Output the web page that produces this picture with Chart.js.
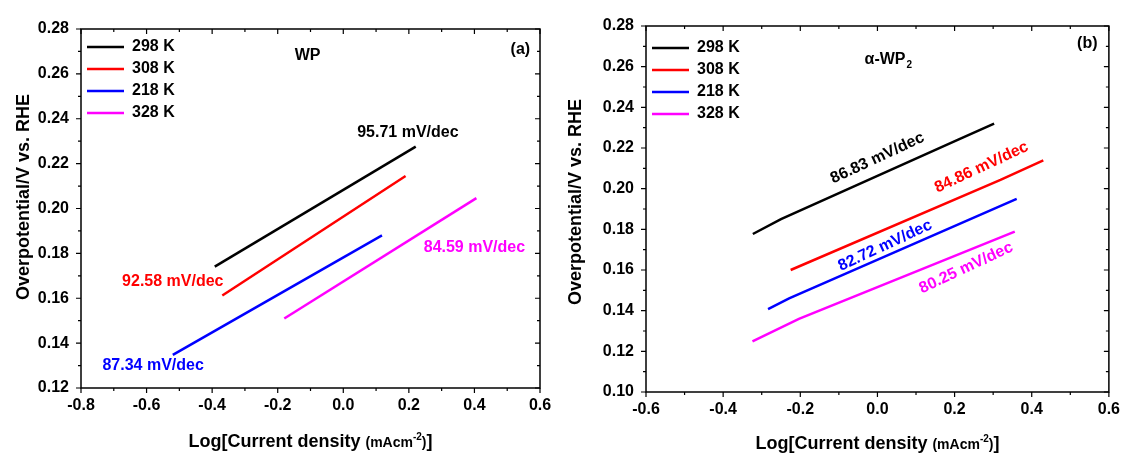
<!DOCTYPE html>
<html>
<head>
<meta charset="utf-8">
<script src="https://cdn.jsdelivr.net/npm/chart.js@4.4.0/dist/chart.umd.min.js"></script>
<style>
body { margin: 0; background: #fff; width: 1128px; height: 457px; overflow: hidden; position: relative; }
canvas { position: absolute; top: 0; }
#chartA { left: 0; }
#chartB { left: 560px; }
</style>
</head>
<body>
<canvas id="chartA" width="560" height="457"></canvas>
<canvas id="chartB" width="568" height="457"></canvas>
<script>
var serieNames = ["298 K", "308 K", "218 K", "328 K"];
var serieColors = ["#000000", "#ff0000", "#0000ff", "#ff00ff"];

// ---------- panel (a) : WP ----------
var wpX298 = [-0.392, 0.221];
var wpY298 = [0.1741, 0.2276];
var wpX308 = [-0.369, 0.190];
var wpY308 = [0.1612, 0.2145];
var wpX218 = [-0.520, 0.118];
var wpY218 = [0.1348, 0.1880];
var wpX328 = [-0.180, 0.406];
var wpY328 = [0.1510, 0.2046];

var wpSlopes = ["95.71 mV/dec", "92.58 mV/dec", "87.34 mV/dec", "84.59 mV/dec"];
var wpSlopeX = [0.197, -0.520, -0.580, 0.400];
var wpSlopeY = [0.2337, 0.1673, 0.1299, 0.1825];

var wpXTicks = [-0.8, -0.6, -0.4, -0.2, 0.0, 0.2, 0.4, 0.6];
var wpYTicks = [0.12, 0.14, 0.16, 0.18, 0.20, 0.22, 0.24, 0.26, 0.28];

// ---------- panel (b) : alpha-WP2 ----------
var awpX298 = [-0.323, -0.250, 0.208, 0.3025];
var awpY298 = [0.1777, 0.1850, 0.2240, 0.2320];
var awpX308 = [-0.225, 0.319, 0.430];
var awpY308 = [0.1600, 0.2043, 0.2139];
var awpX218 = [-0.2836, -0.229, 0.361];
var awpY218 = [0.1408, 0.1460, 0.1950];
var awpX328 = [-0.324, -0.2036, 0.356];
var awpY328 = [0.1249, 0.1360, 0.1789];

var awpSlopes = ["86.83 mV/dec", "84.86 mV/dec", "82.72 mV/dec", "80.25 mV/dec"];
var awpSlopeX = [0.000, 0.270, 0.020, 0.230];
var awpSlopeY = [0.2150, 0.2105, 0.1720, 0.1610];

var awpXTicks = [-0.6, -0.4, -0.2, 0.0, 0.2, 0.4, 0.6];
var awpYTicks = [0.10, 0.12, 0.14, 0.16, 0.18, 0.20, 0.22, 0.24, 0.26, 0.28];

var FONT = "'Liberation Sans', Arial, sans-serif";
Chart.defaults.font.family = FONT;
Chart.defaults.color = "#000";

function buildDatasets(xs, ys) {
    return xs.map(function (xArr, k) {
        return {
            label: serieNames[k],
            data: xArr.map(function (x, i) { return { x: x, y: ys[k][i] }; }),
            borderColor: serieColors[k],
            backgroundColor: serieColors[k],
            borderWidth: 2.5,
            pointRadius: 0,
            tension: 0,
            fill: false
        };
    });
}

// x title with smaller "(mAcm-2)" part and superscript
function drawXTitle(ctx, cx, y) {
    var parts = [
        ["Log[Current density ", 18, 0],
        ["(mAcm", 14, 0],
        ["-2", 10, -7],
        [")", 14, 0],
        ["]", 18, 0]
    ];
    var total = 0;
    parts.forEach(function (p) {
        ctx.font = "bold " + p[1] + "px " + FONT;
        p.push(ctx.measureText(p[0]).width);
        total += p[3];
    });
    var x = cx - total / 2;
    ctx.textAlign = "left";
    ctx.textBaseline = "alphabetic";
    parts.forEach(function (p) {
        ctx.font = "bold " + p[1] + "px " + FONT;
        ctx.fillText(p[0], x, y + p[2]);
        x += p[3];
    });
}

function drawYTitle(ctx, cx, cy) {
    ctx.save();
    ctx.translate(cx, cy);
    ctx.rotate(-Math.PI / 2);
    ctx.font = "bold 18px " + FONT;
    ctx.textAlign = "center";
    ctx.textBaseline = "middle";
    ctx.fillText("Overpotential/V vs. RHE", 0, 0);
    ctx.restore();
}

// cadre + graduations (style Origin : vers l'exterieur a gauche/en bas, vers l'interieur en haut/a droite)
function drawFrame(chart, xTicks, yTicks) {
    var ctx = chart.ctx, a = chart.chartArea;
    var sx = chart.scales.x, sy = chart.scales.y;
    ctx.save();
    ctx.strokeStyle = "#000";
    ctx.lineWidth = 1.5;
    ctx.strokeRect(a.left, a.top, a.right - a.left, a.bottom - a.top);
    ctx.lineWidth = 1.2;
    ctx.beginPath();
    for (var i = 0; i < xTicks.length; i++) {
        var v = xTicks[i];
        var vals = [[v, 5]];
        if (i < xTicks.length - 1) vals.push([(v + xTicks[i + 1]) / 2, 3]);
        vals.forEach(function (t) {
            var px = sx.getPixelForValue(t[0]);
            ctx.moveTo(px, a.bottom); ctx.lineTo(px, a.bottom + t[1]);
            ctx.moveTo(px, a.top); ctx.lineTo(px, a.top + t[1]);
        });
    }
    for (var j = 0; j < yTicks.length; j++) {
        var w = yTicks[j];
        var wv = [[w, 5]];
        if (j < yTicks.length - 1) wv.push([(w + yTicks[j + 1]) / 2, 3]);
        wv.forEach(function (t) {
            var py = sy.getPixelForValue(t[0]);
            ctx.moveTo(a.left, py); ctx.lineTo(a.left - t[1], py);
            ctx.moveTo(a.right, py); ctx.lineTo(a.right - t[1], py);
        });
    }
    ctx.stroke();
    ctx.restore();
}

function drawSlopes(chart, texts, xs, ys, angle) {
    var ctx = chart.ctx, sx = chart.scales.x, sy = chart.scales.y;
    ctx.save();
    ctx.font = "bold 16px " + FONT;
    ctx.textAlign = "center";
    ctx.textBaseline = "middle";
    texts.forEach(function (t, i) {
        ctx.save();
        ctx.translate(sx.getPixelForValue(xs[i]), sy.getPixelForValue(ys[i]));
        ctx.rotate(angle);
        ctx.fillStyle = serieColors[i];
        ctx.fillText(t, 0, 0);
        ctx.restore();
    });
    ctx.restore();
}

function makeChart(id, cfg) {
    var decor = {
        id: "decor",
        afterDatasetsDraw: function (chart) {
            var ctx = chart.ctx, a = chart.chartArea;
            var sx = chart.scales.x, sy = chart.scales.y;
            drawSlopes(chart, cfg.slopes, cfg.slopeX, cfg.slopeY, cfg.angle);
            ctx.save();
            ctx.fillStyle = "#000";
            ctx.textBaseline = "middle";
            ctx.textAlign = "center";
            // nom du materiau
            ctx.font = "bold 16px " + FONT;
            var nx = sx.getPixelForValue(cfg.nameX), ny = sy.getPixelForValue(cfg.nameY);
            if (cfg.sub) {
                var w1 = ctx.measureText(cfg.name).width;
                ctx.font = "bold 10px " + FONT;
                var w2 = ctx.measureText(cfg.sub).width;
                ctx.textAlign = "left";
                ctx.font = "bold 16px " + FONT;
                ctx.fillText(cfg.name, nx - (w1 + w2) / 2, ny);
                ctx.font = "bold 10px " + FONT;
                ctx.fillText(cfg.sub, nx - (w1 + w2) / 2 + w1 + 1, ny + 5);
                ctx.textAlign = "center";
            } else {
                ctx.fillText(cfg.name, nx, ny);
            }
            ctx.font = "bold 16px " + FONT;
            ctx.fillText(cfg.tag, sx.getPixelForValue(cfg.tagX), sy.getPixelForValue(cfg.tagY));
            drawXTitle(ctx, (a.left + a.right) / 2, cfg.xTitleY);
            drawYTitle(ctx, cfg.yTitleX, cfg.yTitleY);
            ctx.restore();
        },
        afterDraw: function (chart) {
            drawFrame(chart, cfg.xTicks, cfg.yTicks);
        }
    };

    return new Chart(document.getElementById(id), {
        type: "line",
        data: { datasets: buildDatasets(cfg.xs, cfg.ys) },
        options: {
            responsive: false,
            animation: false,
            devicePixelRatio: 1,
            layout: { padding: { top: cfg.padTop, right: cfg.padRight, left: 0, bottom: 0 } },
            plugins: {
                tooltip: { enabled: false },
                legend: {
                    position: "chartArea",
                    align: "start",
                    title: { display: true, text: "", padding: 0, font: { size: cfg.legendShift, lineHeight: 1 } },
                    labels: {
                        boxWidth: 37,
                        boxHeight: 0,
                        padding: 6,
                        color: "#000",
                        font: { size: 16, weight: "bold" }
                    }
                }
            },
            scales: {
                x: {
                    type: "linear",
                    min: cfg.xTicks[0],
                    max: cfg.xTicks[cfg.xTicks.length - 1],
                    grid: { display: false, drawTicks: false },
                    border: { display: false },
                    ticks: {
                        stepSize: 0.2,
                        padding: 8,
                        maxRotation: 0,
                        autoSkip: false,
                        color: "#000",
                        font: { size: 16, weight: "bold" },
                        callback: function (v) { return Math.abs(v) < 1e-9 ? "0.0" : v.toFixed(1); }
                    },
                    afterFit: function (s) { s.height = cfg.xAxisH; }
                },
                y: {
                    type: "linear",
                    min: cfg.yTicks[0],
                    max: cfg.yTicks[cfg.yTicks.length - 1],
                    grid: { display: false, drawTicks: false },
                    border: { display: false },
                    ticks: {
                        stepSize: 0.02,
                        padding: 12,
                        autoSkip: false,
                        color: "#000",
                        font: { size: 16, weight: "bold" },
                        callback: function (v) { return v.toFixed(2); }
                    },
                    afterFit: function (s) { s.width = cfg.yAxisW; }
                }
            }
        },
        plugins: [decor]
    });
}

makeChart("chartA", {
    xs: [wpX298, wpX308, wpX218, wpX328],
    ys: [wpY298, wpY308, wpY218, wpY328],
    slopes: wpSlopes, slopeX: wpSlopeX, slopeY: wpSlopeY, angle: 0,
    xTicks: wpXTicks, yTicks: wpYTicks,
    name: "WP", sub: null, nameX: -0.109, nameY: 0.268,
    tag: "(a)", tagX: 0.54, tagY: 0.271,
    padTop: 29, padRight: 20, xAxisH: 69, yAxisW: 81,
    legendShift: 33,
    xTitleY: 447, yTitleX: 24, yTitleY: 197
});

makeChart("chartB", {
    xs: [awpX298, awpX308, awpX218, awpX328],
    ys: [awpY298, awpY308, awpY218, awpY328],
    slopes: awpSlopes, slopeX: awpSlopeX, slopeY: awpSlopeY, angle: -25 * Math.PI / 180,
    xTicks: awpXTicks, yTicks: awpYTicks,
    name: "\u03b1-WP", sub: "2", nameX: 0.027, nameY: 0.2633,
    tag: "(b)", tagX: 0.544, tagY: 0.2715,
    padTop: 26, padRight: 16, xAxisH: 65, yAxisW: 86,
    legendShift: 34,
    xTitleY: 449, yTitleX: 16, yTitleY: 202
});
</script>
</body>
</html>
